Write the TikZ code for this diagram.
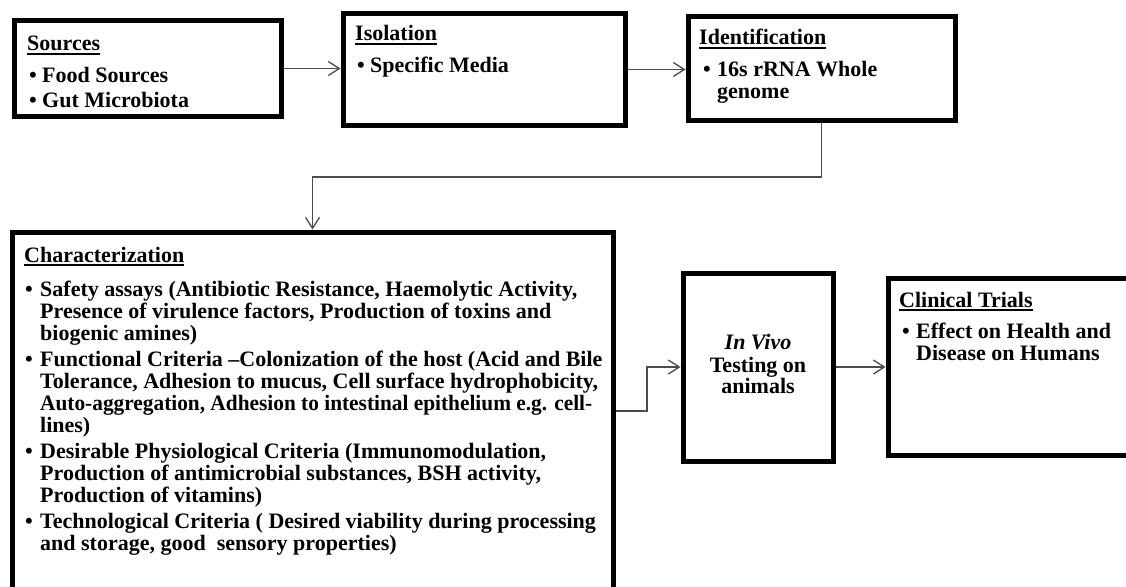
\documentclass[tikz,border=0pt]{standalone}
\usepackage{graphicx}
\usepackage{fontspec}
\setmainfont{Liberation Serif}
\usetikzlibrary{arrows.meta,shadows}

% underlined panel heading with a heavier rule
\newcommand\panelhead[1]{\setbox0\hbox{#1}\rlap{\rule[-4pt]{\wd0}{1.8pt}}\box0}

\tikzset{
  panel/.style={draw=black, line width=5pt, fill=white, inner sep=0pt,
    drop shadow={shadow xshift=1.5pt, shadow yshift=-2pt, opacity=0.3, fill=black!45}},
  conn/.style={draw=black!70, line width=1.3pt,
    -{Straight Barb[length=11pt,width=14pt]}},
  txt/.style={anchor=base west, inner sep=0pt, font=\fontsize{22}{23}\selectfont\bfseries},
  ctxt/.style={anchor=base, inner sep=0pt, font=\fontsize{22}{23}\selectfont\bfseries},
}

\begin{document}
\begin{tikzpicture}[x=1pt,y=-1pt]
\useasboundingbox (0,0) rectangle (1126,586);
\clip (0,0) rectangle (1126,586);
\fill[white] (0,0) rectangle (1126,586);

% panels
\node[panel, minimum width=267pt, minimum height=95pt]  (src)  at (147.5,68.5) {};
\node[panel, minimum width=282pt, minimum height=111pt] (iso)  at (484,69.5) {};
\node[panel, minimum width=267pt, minimum height=103pt] (idf)  at (821.5,68.5) {};
\node[panel, minimum width=601pt, minimum height=408pt] (chr)  at (312.5,436) {};
\node[panel, minimum width=150pt, minimum height=188pt] (viv)  at (758,367) {};
\node[panel, minimum width=262pt, minimum height=177pt] (cln)  at (1019,366.5) {};

% Sources
\node[txt] (srcH)  at (27,51)  {\panelhead{Sources}};
\node[txt] (srcB1) at (29,82)  {•};
\node[txt] (srcT1) at (42,82)  {Food Sources};
\node[txt] (srcB2) at (29,107) {•};
\node[txt] (srcT2) at (42,107) {Gut Microbiota};

% Isolation
\node[txt] (isoH)  at (355,41) {\panelhead{Isolation}};
\node[txt] (isoB1) at (357,73) {•};
\node[txt] (isoT1) at (370,73) {Specific Media};

% Identification
\node[txt] (idfH)  at (699,45) {\panelhead{Identification}};
\node[txt] (idfB1) at (703,77) {•};
\node[txt] (idfT1) at (717,77) {16s rRNA Whole};
\node[txt] (idfT2) at (717,98) {genome};

% Characterization
\node[txt] (chrH) at (24,262) {\panelhead{Characterization}};
\node[txt] (chrB1) at (25,296) {•};
\node[txt] (chrL1) at (40,296) {Safety assays (Antibiotic Resistance, Haemolytic Activity,};
\node[txt] (chrL2) at (40,318) {Presence of virulence factors, Production of toxins and};
\node[txt] (chrL3) at (40,340) {biogenic amines)};
\node[txt] (chrB2) at (25,366) {•};
\node[txt] (chrL4) at (40,366) {Functional Criteria –Colonization of the host (Acid and Bile};
\node[txt] (chrL5) at (40,388) {Tolerance, Adhesion to mucus, Cell surface hydrophobicity,};
\node[txt] (chrL6) at (40,410) {\scalebox{0.97}[1]{Auto-aggregation, Adhesion to intestinal epithelium e.g. cell-}};
\node[txt] (chrL7) at (40,432) {lines)};
\node[txt] (chrB3) at (25,458) {•};
\node[txt] (chrL8) at (40,458) {Desirable Physiological Criteria (Immunomodulation,};
\node[txt] (chrL9) at (40,480) {Production of antimicrobial substances, BSH activity,};
\node[txt] (chrL10) at (40,502) {Production of vitamins)};
\node[txt] (chrB4) at (25,528) {•};
\node[txt] (chrL11) at (40,528) {Technological Criteria ( Desired viability during processing};
\node[txt] (chrL12) at (40,550) {and storage, good~ sensory properties)};

% In vivo testing
\node[ctxt] (vivL1) at (758,349) {\itshape In Vivo};
\node[ctxt] (vivL2) at (758,372) {Testing on};
\node[ctxt] (vivL3) at (758,393) {animals};

% Clinical trials
\node[txt] (clnH)  at (899,307) {\panelhead{Clinical Trials}};
\node[txt] (clnB1) at (902,338) {•};
\node[txt] (clnT1) at (916,338) {Effect on Health and};
\node[txt] (clnT2) at (916,360) {Disease on Humans};

% connectors
\coordinate (drop) at (0,177);
\coordinate (elbow) at (647,411);
\draw[conn] (src.east) -- (src.east -| iso.west);
\draw[conn] (iso.east) -- (iso.east -| idf.west);
\draw[conn] (idf.south) -- (idf.south |- drop) -| (chr.north);
\draw[conn] (elbow -| chr.east) -- (elbow) |- (viv.west);
\draw[conn] (viv.east) -- (viv.east -| cln.west);
\end{tikzpicture}
\end{document}
